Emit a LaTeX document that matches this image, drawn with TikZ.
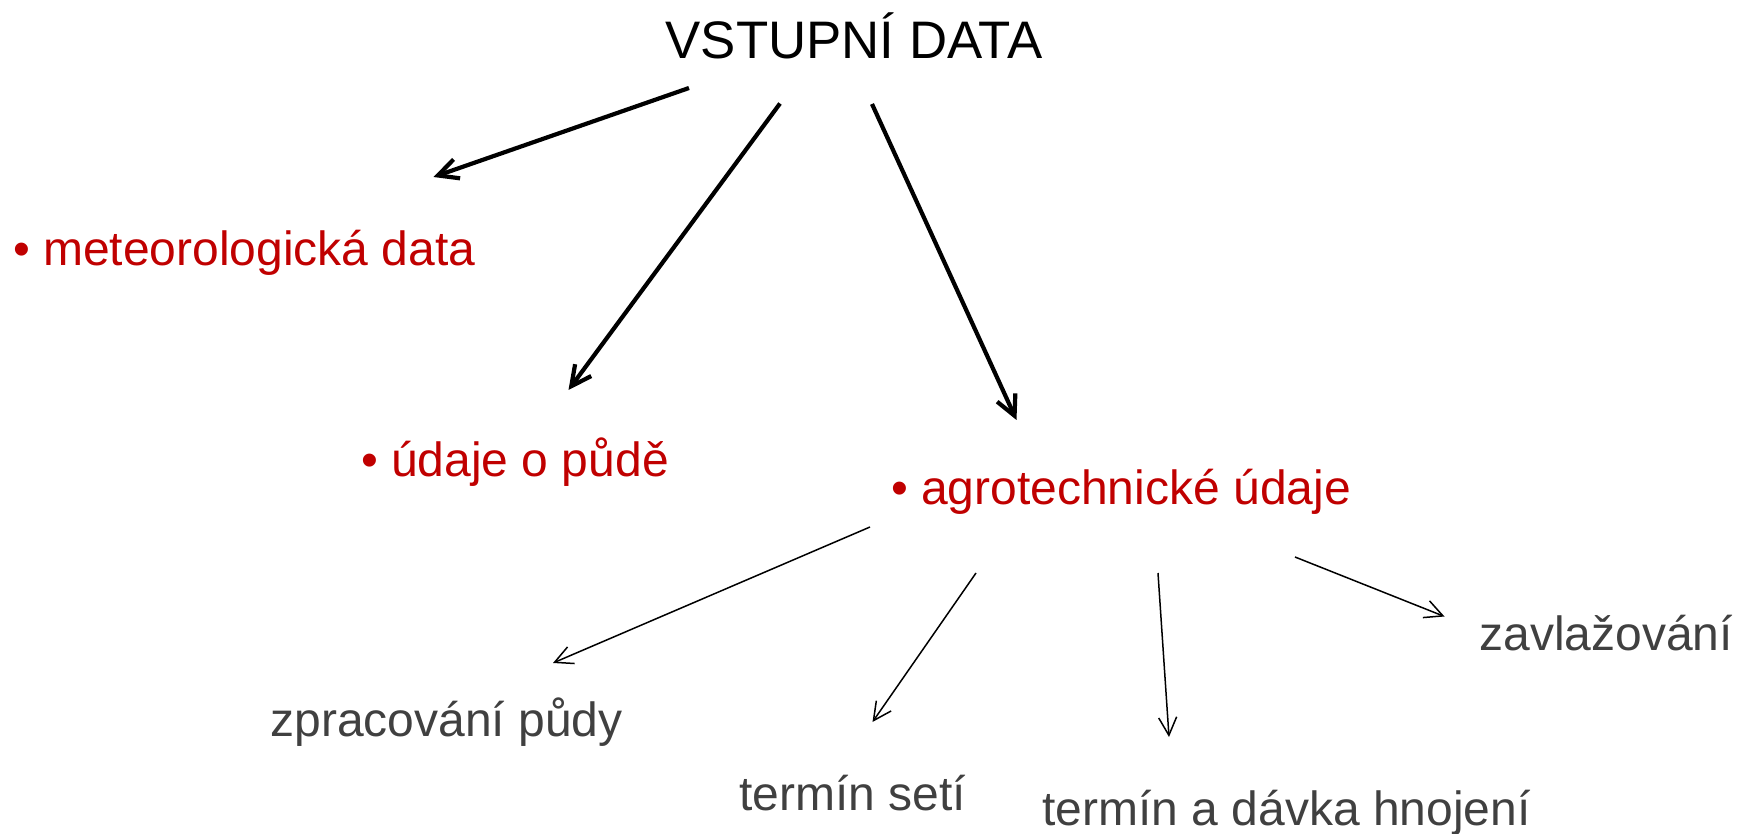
\documentclass[tikz,border=0pt]{standalone}
\usepackage{fontspec}
\setmainfont{Liberation Sans}
\usepackage{xcolor}
\usetikzlibrary{arrows.meta}

\definecolor{itemred}{HTML}{C00000}
\definecolor{subgray}{HTML}{404040}

\begin{document}
\begin{tikzpicture}[
    x=0.5pt, y=-0.5pt,
    heading/.style={inner sep=0pt, anchor=base, font=\fontsize{26.4}{30}\selectfont},
    item/.style={inner sep=0pt, anchor=base west, text=itemred, font=\fontsize{24}{28}\selectfont},
    sub/.style={inner sep=0pt, anchor=base west, text=subgray, font=\fontsize{24}{28}\selectfont},
    big/.style={-{Straight Barb[length=10pt, width=10pt]}, line width=2.1pt},
    small/.style={-{Straight Barb[length=9pt, width=9pt]}, line width=0.75pt},
]
\useasboundingbox (0,0) rectangle (1737,834);

% Title
\node[heading] (title) at (854,58.5) {VSTUPNÍ DATA};

% Input groups
\node[item] (meteo) at (12.7,265.7) {• meteorologická data};
\node[item] (soil) at (360.7,476.7) {• údaje o půdě};
\node[item] (agro) at (890.7,505) {• agrotechnické údaje};

% Agrotechnical details
\node[sub] (tillage) at (270,736) {zpracování půdy};
\node[sub] (sowing) at (739,810) {termín setí};
\node[sub] (fertil) at (1042,825) {termín a dávka hnojení};
\node[sub] (irrig) at (1479,650) {zavlažování};

% Title to groups
\draw[big] ([shift={(-165,29.5)}]title.base) -- ([shift={(420.8,-88.7)}]meteo.base west);
\draw[big] ([shift={(-74,45)}]title.base) -- ([shift={(207.8,-86.7)}]soil.base west);
\draw[big] ([shift={(18,45.5)}]title.base) -- ([shift={(125.8,-85)}]agro.base west);

% Agro to details
\draw[small] ([shift={(-20.7,22)}]agro.base west) -- ([shift={(283,-73)}]tillage.base west);
\draw[small] ([shift={(85.3,68)}]agro.base west) -- ([shift={(133.5,-88)}]sowing.base west);
\draw[small] ([shift={(267.3,68)}]agro.base west) -- ([shift={(127,-88)}]fertil.base west);
\draw[small] ([shift={(404.3,52)}]agro.base west) -- ([shift={(-34.5,-33.5)}]irrig.base west);
\end{tikzpicture}
\end{document}
